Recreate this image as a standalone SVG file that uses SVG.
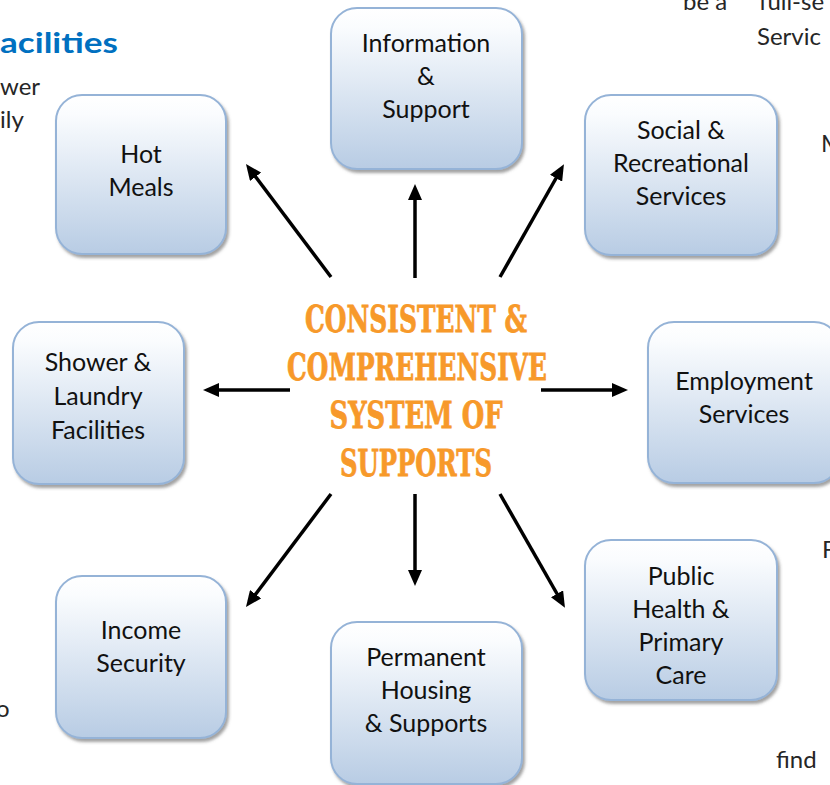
<svg xmlns="http://www.w3.org/2000/svg" width="830" height="785" viewBox="0 0 830 785">
<defs>
<linearGradient id="boxGrad" x1="0" y1="0" x2="0" y2="1">
<stop offset="0" stop-color="#FFFFFF"/>
<stop offset="0.12" stop-color="#FAFCFE"/>
<stop offset="1" stop-color="#B8CCE4"/>
</linearGradient>
<filter id="shadow" x="-10%" y="-10%" width="130%" height="130%">
<feDropShadow dx="2" dy="3" stdDeviation="1.5" flood-color="#555" flood-opacity="0.55"/>
</filter>
<marker id="arrow" viewBox="0 0 16 14" refX="6" refY="7" markerWidth="16" markerHeight="14" markerUnits="userSpaceOnUse" orient="auto">
<path d="M0,0 L16,7 L0,14 z" fill="#000"/>
</marker>
<style>
.box { fill: url(#boxGrad); stroke: #95B3D7; stroke-width: 2; filter: url(#shadow); }
.lbl { font-family: Lato, "Open Sans", "Liberation Sans", sans-serif; font-size: 25px; fill: #111; text-anchor: middle; }
.bg { font-family: Lato, "Open Sans", "Liberation Sans", sans-serif; font-size: 24px; fill: #262626; }
.ctr { font-family: "DejaVu Serif", "Liberation Serif", serif; font-weight: bold; font-size: 37px; fill: #F7992A; stroke: #F7992A; stroke-width: 0.8; text-anchor: middle; }
.conn line { stroke: #000; stroke-width: 3.5; marker-end: url(#arrow); }
</style>
</defs>
<rect width="830" height="785" fill="#fff"/>

<g id="page-text">
<text x="0" y="53" font-family="Lato, 'Open Sans', 'Liberation Sans', sans-serif" font-weight="bold" font-size="29" fill="#0070C0" textLength="118" lengthAdjust="spacingAndGlyphs">acilities</text>
<text class="bg" x="0" y="95" textLength="40" lengthAdjust="spacingAndGlyphs">wer</text>
<text class="bg" x="0" y="128">ily</text>
<text class="bg" x="-4" y="717">o</text>
<text class="bg" x="683" y="10">be a</text>
<text class="bg" x="759" y="10">full-se</text>
<text class="bg" x="757" y="45">Servic</text>
<text class="bg" x="821" y="152">M</text>
<text class="bg" x="822" y="558">F</text>
<text class="bg" x="776" y="768">find</text>
</g>

<g class="conn" id="connectors">
<line x1="415" y1="278" x2="415" y2="194"/>
<line x1="331" y1="277" x2="252" y2="172"/>
<line x1="500" y1="277" x2="559" y2="173"/>
<line x1="290" y1="390" x2="213" y2="390"/>
<line x1="541" y1="390" x2="618" y2="390"/>
<line x1="331" y1="494" x2="252" y2="599"/>
<line x1="415" y1="494" x2="415" y2="576"/>
<line x1="500" y1="494" x2="560" y2="599"/>
</g>

<g id="center">
<text class="ctr" x="416" y="332" textLength="222" lengthAdjust="spacingAndGlyphs">CONSISTENT &amp;</text>
<text class="ctr" x="417" y="380" textLength="260" lengthAdjust="spacingAndGlyphs">COMPREHENSIVE</text>
<text class="ctr" x="416" y="428" textLength="173" lengthAdjust="spacingAndGlyphs">SYSTEM OF</text>
<text class="ctr" x="416" y="476" textLength="152" lengthAdjust="spacingAndGlyphs">SUPPORTS</text>
</g>

<g id="node-hot-meals">
<rect class="box" x="56" y="95" width="170" height="159" rx="26"/>
<text class="lbl" x="141" y="163">Hot</text>
<text class="lbl" x="141" y="196">Meals</text>
</g>

<g id="node-information">
<rect class="box" x="331" y="8" width="191" height="161" rx="26"/>
<text class="lbl" x="426" y="52">Information</text>
<text class="lbl" x="426" y="85">&amp;</text>
<text class="lbl" x="426" y="118">Support</text>
</g>

<g id="node-social">
<rect class="box" x="585" y="95" width="192" height="160" rx="26"/>
<text class="lbl" x="681" y="139">Social &amp;</text>
<text class="lbl" x="681" y="172">Recreational</text>
<text class="lbl" x="681" y="205">Services</text>
</g>

<g id="node-shower">
<rect class="box" x="13" y="322" width="171" height="162" rx="26"/>
<text class="lbl" x="98" y="371">Shower &amp;</text>
<text class="lbl" x="98" y="405">Laundry</text>
<text class="lbl" x="98" y="439">Facilities</text>
</g>

<g id="node-employment">
<rect class="box" x="648" y="322" width="192" height="161" rx="26"/>
<text class="lbl" x="744" y="390">Employment</text>
<text class="lbl" x="744" y="423">Services</text>
</g>

<g id="node-public-health">
<rect class="box" x="585" y="540" width="192" height="160" rx="26"/>
<text class="lbl" x="681" y="585">Public</text>
<text class="lbl" x="681" y="618">Health &amp;</text>
<text class="lbl" x="681" y="651">Primary</text>
<text class="lbl" x="681" y="684">Care</text>
</g>

<g id="node-income">
<rect class="box" x="56" y="576" width="170" height="162" rx="26"/>
<text class="lbl" x="141" y="639">Income</text>
<text class="lbl" x="141" y="672">Security</text>
</g>

<g id="node-permanent">
<rect class="box" x="331" y="622" width="191" height="162" rx="26"/>
<text class="lbl" x="426" y="666">Permanent</text>
<text class="lbl" x="426" y="699">Housing</text>
<text class="lbl" x="426" y="732">&amp; Supports</text>
</g>
</svg>
